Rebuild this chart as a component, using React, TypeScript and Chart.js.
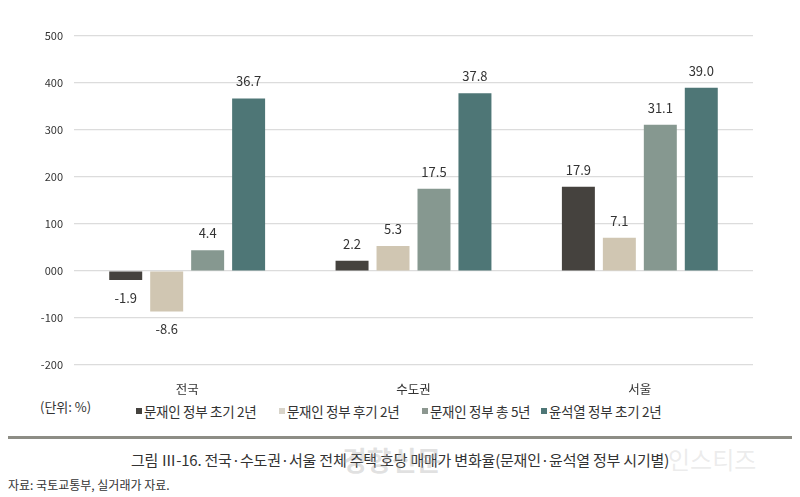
import React, { useEffect, useRef } from "react";
import { Chart, registerables } from "chart.js";

Chart.register(...registerables);

const categories = ["전국", "수도권", "서울"];
const seriesNames = ["문재인 정부 초기 2년", "문재인 정부 후기 2년", "문재인 정부 총 5년", "윤석열 정부 초기 2년"];
const moonEarly = [-1.9, 2.2, 17.9];
const moonLate = [-8.6, 5.3, 7.1];
const moonTotal = [4.4, 17.5, 31.1];
const yoonEarly = [36.7, 37.8, 39.0];
const seriesColors = ["#45423e", "#d0c6b2", "#869890", "#4e7676"];
const legendColors = ["#45423e", "#d8d4ca", "#8c9790", "#4e7676"];
const yTickValues = [50, 40, 30, 20, 10, 0, -10, -20];
const yTickLabels = ["500", "400", "300", "200", "100", "000", "-100", "-200"];

const FONT = "'Noto Sans CJK KR', 'Noto Sans', sans-serif";
const legendLeft = [136, 279, 422, 541];

const valueLabels = {
  id: "valueLabels",
  afterDatasetsDraw(chart: any) {
    const ctx = chart.ctx;
    ctx.save();
    ctx.font = `13px ${FONT}`;
    ctx.fillStyle = "#333";
    ctx.textAlign = "center";
    ctx.textBaseline = "middle";
    chart.data.datasets.forEach((ds: any, i: number) => {
      const meta = chart.getDatasetMeta(i);
      meta.data.forEach((el: any, j: number) => {
        const v = ds.data[j];
        const y = v >= 0 ? el.y - 17 : el.y + 18;
        ctx.fillText(v.toFixed(1), el.x, y);
      });
    });
    ctx.restore();
  },
};

export default function App() {
  const ref = useRef<HTMLCanvasElement>(null);
  useEffect(() => {
    document.body.style.margin = "0";
    const chart = new Chart(ref.current as HTMLCanvasElement, {
      type: "bar",
      data: {
        labels: categories,
        datasets: [moonEarly, moonLate, moonTotal, yoonEarly].map((d, i) => ({
          label: seriesNames[i],
          data: d,
          backgroundColor: seriesColors[i],
          barPercentage: 0.805,
          categoryPercentage: 0.724,
        })),
      },
      options: {
        animation: false,
        responsive: false,
        layout: { padding: { top: 36, right: 47, left: 0, bottom: 0 } },
        plugins: { legend: { display: false }, tooltip: { enabled: false } },
        scales: {
          x: {
            grid: { display: false },
            border: { display: false },
            ticks: { padding: 9, color: "#333", font: { family: FONT, size: 12.5 } },
            afterFit: (s: any) => { s.height = 30; },
          },
          y: {
            min: -20,
            max: 50,
            border: { display: false },
            grid: { color: "#dcdcdc", drawTicks: false, lineWidth: 1.2 },
            ticks: {
              stepSize: 10,
              padding: 11,
              color: "#333",
              font: { family: FONT, size: 11 },
              callback: (v: any) => {
                const k = yTickValues.indexOf(Number(v));
                return k >= 0 ? yTickLabels[k] : "";
              },
            },
            afterFit: (s: any) => { s.width = 74; },
          },
        },
      },
      plugins: [valueLabels],
    });
    return () => chart.destroy();
  }, []);

  return (
    <div style={{ position: "relative", width: 800, height: 497, background: "#fff", fontFamily: FONT, color: "#333", overflow: "hidden" }}>
      <canvas ref={ref} width={800} height={395} style={{ position: "absolute", left: 0, top: 0 }} />
      <div style={{ position: "absolute", left: 40, top: 398, fontSize: 13, lineHeight: "18px" }}>(단위: %)</div>
      {seriesNames.map((n, i) => (
        <div key={n} style={{ position: "absolute", left: legendLeft[i], top: 402, display: "flex", alignItems: "center", fontSize: 13.5, lineHeight: "18px", letterSpacing: -0.3, whiteSpace: "nowrap" }}>
          <span style={{ display: "inline-block", width: 6, height: 6, background: legendColors[i], marginRight: 2 }} />
          {n}
        </div>
      ))}
      <div style={{ position: "absolute", left: 8, top: 436, width: 784, height: 3, background: "#8d8d85" }} />
      <div style={{ position: "absolute", left: 0, width: 800, top: 450, textAlign: "center", fontSize: 15, lineHeight: "20px", letterSpacing: -0.2 }}>
        그림 Ⅲ-16. 전국·수도권·서울 전체 주택 호당 매매가 변화율(문재인·윤석열 정부 시기별)
      </div>
      <div style={{ position: "absolute", left: 342, top: 443, fontSize: 27, fontWeight: 700, color: "rgba(170,170,170,0.35)", lineHeight: "34px" }}>경향신문</div>
      <div style={{ position: "absolute", left: 668, top: 444, fontSize: 24, color: "rgba(200,200,200,0.35)", lineHeight: "30px" }}>인스티즈</div>
      <div style={{ position: "absolute", left: 8, top: 476, fontSize: 12, lineHeight: "17px" }}>자료: 국토교통부, 실거래가 자료.</div>
    </div>
  );
}
